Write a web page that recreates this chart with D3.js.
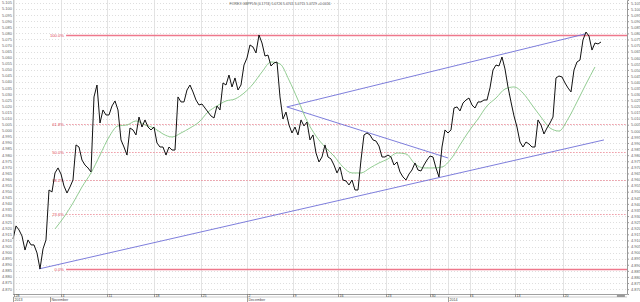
<!DOCTYPE html>
<html><head><meta charset="utf-8">
<script src="https://cdn.jsdelivr.net/npm/d3@7"></script>
<style>body{margin:0;background:#fff}svg{display:block}text{font-family:"Liberation Sans",Arial,sans-serif}</style>
</head><body><svg id="c" width="640" height="302"></svg>
<script>
const title = "FOREX GBPPLN (0.1774) 5.0726 5.0741 5.0715 5.0729 +0.0016";
const closePrices = [
4.9112,4.9219,4.9186,4.9136,4.9021,4.9104,4.9063,4.9063,4.8997,4.8866,
4.9030,4.9104,4.9514,4.9498,4.9654,4.9695,4.9645,4.9547,4.9489,4.9539,
4.9596,4.9884,4.9867,4.9760,4.9719,4.9695,4.9662,5.0278,5.0376,5.0064,
5.0171,5.0130,5.0130,5.0204,5.0245,5.0171,4.9925,4.9867,4.9801,5.0023,
5.0007,4.9966,5.0113,5.0031,5.0089,5.0031,5.0007,5.0031,4.9900,4.9867,
4.9867,4.9801,4.9867,4.9842,4.9842,5.0278,5.0237,5.0237,5.0335,5.0376,
5.0319,5.0253,5.0212,5.0220,5.0187,5.0154,5.0122,5.0105,5.0204,5.0171,
5.0393,5.0376,5.0458,5.0360,5.0434,5.0335,5.0376,5.0540,5.0598,5.0705,
5.0688,5.0639,5.0787,5.0721,5.0614,5.0622,5.0532,5.0557,5.0565,5.0278,
5.0097,5.0154,5.0048,4.9982,5.0031,4.9966,5.0089,5.0040,5.0072,4.9925,
4.9966,4.9818,4.9744,4.9785,4.9884,4.9785,4.9769,4.9719,4.9654,4.9703,
4.9596,4.9588,4.9555,4.9596,4.9514,4.9514,4.9760,4.9966,4.9982,4.9966,
4.9925,4.9916,4.9875,4.9785,4.9785,4.9801,4.9785,4.9719,4.9744,4.9662,
4.9621,4.9596,4.9645,4.9678,4.9736,4.9678,4.9670,4.9719,4.9760,4.9793,
4.9785,4.9695,4.9621,4.9867,5.0007,4.9982,5.0007,5.0187,5.0196,5.0163,
5.0228,5.0253,5.0269,5.0212,5.0187,5.0237,5.0237,5.0253,5.0253,5.0352,
5.0499,5.0540,5.0532,5.0606,5.0508,5.0360,5.0237,5.0122,5.0031,4.9908,
4.9867,4.9908,4.9892,4.9867,4.9867,5.0089,5.0048,4.9974,5.0023,5.0064,
5.0113,5.0434,5.0450,5.0442,5.0393,5.0352,5.0319,5.0499,5.0565,5.0581,
5.0746,5.0811,5.0778,5.0663,5.0721,5.0713,5.0729
];
const maStartBar = 14, maStepBars = 3;
const maValues = [
4.9194,4.9292,4.9407,4.9539,4.9654,4.9801,4.9949,5.0040,5.0048,5.0081,
5.0048,5.0023,4.9974,4.9949,4.9982,5.0023,5.0072,5.0154,5.0204,5.0245,
5.0261,5.0310,5.0384,5.0483,5.0565,5.0549,5.0417,5.0253,5.0081,4.9957,
4.9867,4.9793,4.9703,4.9654,4.9654,4.9695,4.9736,4.9769,4.9818,4.9810,
4.9728,4.9695,4.9695,4.9703,4.9769,4.9884,4.9998,5.0097,5.0204,5.0269,
5.0343,5.0360,5.0310,5.0212,5.0113,5.0023,4.9998,5.0097,5.0237,5.0384,
5.0524
];
const xTickBars = [0.3,16,31.3,47,62.7,78,93.3,108.3,124.3,139,152.3,167.3,183.3];
const xTickLabels = ["28","4","11","18","25","2","9","16","23","30","6","13","20"];
const monthBars = [0,12.3,78,145];
const monthLabels = ["2013","November","December","2014"];
const yTickValues = [4.870,4.875,4.880,4.885,4.890,4.895,4.900,4.905,4.910,4.915,4.920,4.925,4.930,4.935,4.940,4.945,4.950,4.955,4.960,4.965,4.970,4.975,4.980,4.985,4.990,4.995,5.000,5.005,5.010,5.015,5.020,5.025,5.030,5.035,5.040,5.045,5.050,5.055,5.060,5.065,5.070,5.075,5.080,5.085,5.090,5.095,5.100,5.105];
const fibRatios = [0,0.236,0.382,0.5,0.618,1];
const fibLabels = ["0.0%","23.6%","38.2%","50.0%","61.8%","100.0%"];
const swingLow = 4.8866, swingHigh = 5.0787;
const trendLines = [
  {from:[8.67,4.8866], to:[197,4.9925]},
  {from:[91.3,5.0196], to:[190.7,5.0795]},
  {from:[91.3,5.0196], to:[145,4.9777]}
];

const W=640,H=302, L=13, R=627, T=0, B=294;
const svg=d3.select("#c");
const x=d3.scaleLinear().domain([0,204.67]).range([L,R]);
const y=d3.scaleLinear().domain([4.8660,5.1074]).range([B,T]);
const fibStartBar=17.7;

// horizontal dotted grid
svg.append("g").selectAll("line").data(yTickValues).join("line")
  .attr("x1",L).attr("x2",R).attr("y1",d=>Math.round(y(d))+0.5).attr("y2",d=>Math.round(y(d))+0.5)
  .attr("stroke","#c8c8c8").attr("stroke-width",0.6).attr("stroke-dasharray","1,2");
// vertical grid
svg.append("g").selectAll("line").data(xTickBars.concat([monthBars[3]])).join("line")
  .attr("x1",d=>Math.round(x(d))+0.5).attr("x2",d=>Math.round(x(d))+0.5).attr("y1",T).attr("y2",B)
  .attr("stroke","#dcdcdc").attr("stroke-width",0.8);

// fibonacci
const fibG=svg.append("g");
fibRatios.forEach((r,i)=>{
  const v=swingLow+r*(swingHigh-swingLow);
  const yy=Math.round(y(v))+0.5;
  const solid=(r===0||r===1);
  const ln=fibG.append("line").attr("x1",x(fibStartBar)).attr("x2",R).attr("y1",yy).attr("y2",yy)
    .style("stroke",solid?"rgb(238,120,140)":"rgb(236,140,152)").style("stroke-width",solid?"1.3px":"0.9px");
  if(!solid) ln.style("stroke-dasharray","1.5,1.5");
  fibG.append("text").attr("x",x(fibStartBar)-2).attr("y",yy+1.5).attr("text-anchor","end")
    .attr("font-size",4.2).attr("fill","#e0485a").text(fibLabels[i]);
});

// trendlines
svg.append("g").selectAll("line").data(trendLines).join("line")
  .attr("x1",d=>x(d.from[0])).attr("y1",d=>y(d.from[1])).attr("x2",d=>x(d.to[0])).attr("y2",d=>y(d.to[1]))
  .attr("stroke","#6f6fd8").attr("stroke-width",0.9);

// moving average
const maData=maValues.map((v,i)=>({b:maStartBar+i*maStepBars,v}));
svg.append("path").datum(maData)
  .attr("d",d3.line().x(d=>x(d.b)).y(d=>y(d.v)).curve(d3.curveMonotoneX))
  .attr("fill","none").attr("stroke","#86c686").attr("stroke-width",0.9);

// price
svg.append("path").datum(closePrices)
  .attr("d",d3.line().x((d,i)=>x(i)).y(d=>y(d)))
  .attr("fill","none").attr("stroke","#111").attr("stroke-width",1).attr("stroke-linejoin","round");

// right axis
const ra=svg.append("g").attr("transform",`translate(${R},0)`)
  .call(d3.axisRight(y).tickValues(yTickValues).tickFormat(d3.format(".3f")).tickSize(2).tickPadding(2));
ra.select(".domain").attr("stroke","#999");
ra.selectAll(".tick line").attr("stroke","#999");
ra.selectAll("text").attr("font-size",4).attr("fill","#666").attr("font-family","Liberation Sans, Arial, sans-serif");
// left labels
svg.append("g").selectAll("text").data(yTickValues).join("text")
  .attr("x",L-1).attr("y",d=>y(d)+1.4).attr("text-anchor","end").attr("font-size",4).attr("fill","#666")
  .text(d=>d3.format(".3f")(d));
svg.append("line").attr("x1",L+0.5).attr("x2",L+0.5).attr("y1",T).attr("y2",B).attr("stroke","#bbb").attr("stroke-width",0.8);

// bottom axis band
svg.append("line").attr("x1",L).attr("x2",R).attr("y1",B+0.5).attr("y2",B+0.5).attr("stroke","#888").attr("stroke-width",0.8);
svg.append("line").attr("x1",L).attr("x2",R).attr("y1",B+3).attr("y2",B+3).attr("stroke","#aaa").attr("stroke-width",0.6);
const bx=svg.append("g");
xTickBars.forEach((b,i)=>{
  const xx=Math.round(x(b))+0.5;
  bx.append("line").attr("x1",xx).attr("x2",xx).attr("y1",B).attr("y2",B+3).attr("stroke","#777").attr("stroke-width",0.7);
  bx.append("text").attr("x",xx+1).attr("y",B+2.9).attr("font-size",3.6).attr("fill","#444").text(xTickLabels[i]);
});
monthBars.forEach((b,i)=>{
  const xx=Math.round(x(b))+0.5;
  bx.append("line").attr("x1",xx).attr("x2",xx).attr("y1",B+3).attr("y2",H).attr("stroke","#777").attr("stroke-width",0.7);
  bx.append("text").attr("x",xx+1).attr("y",B+6.9).attr("font-size",3.6).attr("fill","#444").text(monthLabels[i]);
});
svg.append("rect").attr("x",x(201.3)).attr("y",B+0.5).attr("width",8).attr("height",2.5).attr("fill","#9a9a9a");

// title
svg.append("text").attr("x",(L+R)/2-40).attr("y",4.8).attr("text-anchor","middle").attr("font-size",3.8)
  .attr("fill","#555").attr("textLength",101).attr("lengthAdjust","spacingAndGlyphs").text(title);
</script></body></html>
